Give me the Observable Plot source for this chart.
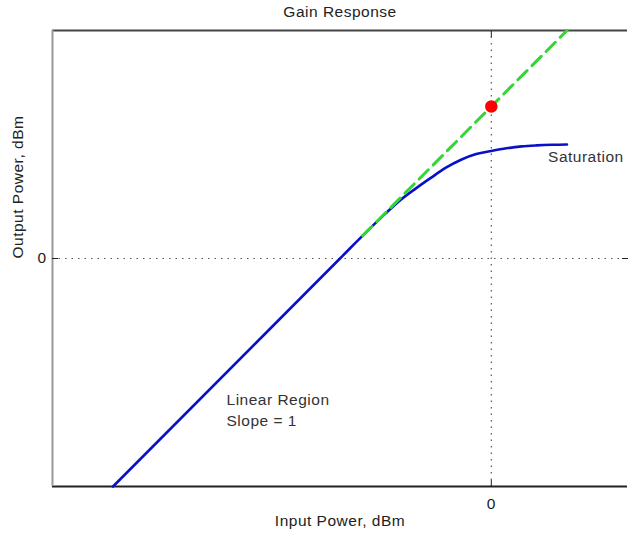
<!DOCTYPE html>
<html>
<head>
<meta charset="utf-8">
<script src="https://cdn.jsdelivr.net/npm/d3@7"></script>
<script src="https://cdn.jsdelivr.net/npm/@observablehq/plot@0.6"></script>
<style>
  html, body { margin: 0; padding: 0; background: #ffffff; overflow: hidden; }
  svg { display: block; }
</style>
</head>
<body>
<div id="chart"></div>
<script>
// ---- data ----
const inputDbm  = [-50, -30, -20, -16, -14, -12, -10, -8, -6, -4, -2, 0, 2, 4, 6, 8, 10];
const outputDbm = [-30, -10, 0, 4, 5.9, 7.7, 9.2, 10.6, 11.95, 13.0, 13.75, 14.15, 14.5, 14.75, 14.88, 14.96, 15.0];

const refInput  = [-17, 10];   // extrapolated linear (slope = 1) line
const refOutput = [3, 30];

const interceptInput  = [0];
const interceptOutput = [20];

const xTicks = [0];
const yTicks = [0];
const xDomain = [-58, 18];
const yDomain = [-30, 30];

const annText = ["Saturation", "Linear Region", "Slope = 1"];
const annX = [7.5, -35, -35];
const annY = [13.4, -18.6, -21.4];

// ---- build tables ----
const gain = inputDbm.map((x, i) => ({x, y: outputDbm[i]}));
const ref = refInput.map((x, i) => ({x, y: refOutput[i]}));
const dot = interceptInput.map((x, i) => ({x, y: interceptOutput[i]}));
const notes = annText.map((t, i) => ({t, x: annX[i], y: annY[i]}));

const font = "'Liberation Sans', Arial, Helvetica, sans-serif";

const chart = Plot.plot({
  width: 629,
  height: 539,
  marginLeft: 52,
  marginTop: 30,
  marginBottom: 53,
  marginRight: 2,
  style: {fontFamily: font, fontSize: "15px", background: "#ffffff", color: "#222"},
  x: {domain: xDomain},
  y: {domain: yDomain},
  marks: [
    // dotted grid lines at the ticks
    Plot.ruleX(xTicks, {stroke: "#555", strokeWidth: 1.2, strokeDasharray: "1.5,5"}),
    Plot.ruleY(yTicks, {stroke: "#555", strokeWidth: 1.2, strokeDasharray: "1.5,5"}),
    // box lines
    Plot.ruleY([yDomain[1]], {stroke: "#444", strokeWidth: 2}),
    Plot.ruleY([yDomain[0]], {stroke: "#222", strokeWidth: 2}),
    Plot.ruleX([xDomain[0]], {stroke: "#999", strokeWidth: 2}),
    // axes
    Plot.axisX({ticks: xTicks, tickSize: -6, tickPadding: 17, label: null, fontSize: 15.5, stroke: "#222"}),
    Plot.axisX({anchor: "top", ticks: xTicks, tickSize: -6, tickFormat: () => "", label: null, stroke: "#222"}),
    Plot.axisY({ticks: yTicks, tickSize: -6, tickPadding: 12, label: null, fontSize: 15.5, stroke: "#222"}),
    Plot.axisY({anchor: "right", ticks: yTicks, tickSize: -6, tickFormat: () => "", label: null, stroke: "#222"}),
    // gain curve
    Plot.line(gain, {x: "x", y: "y", stroke: "#0a10c8", strokeWidth: 2.6, curve: "monotone-x"}),
    // linear extrapolation
    Plot.line(ref, {x: "x", y: "y", stroke: "#33d633", strokeWidth: 3, strokeDasharray: "13,7"}),
    // intercept point
    Plot.dot(dot, {x: "x", y: "y", r: 5.5, fill: "#ff0000", stroke: "#ff0000"}),
    // annotations
    Plot.text(notes, {x: "x", y: "y", text: "t", textAnchor: "start", fontSize: 15.5, fill: "#333"}),
    // title and axis labels
    Plot.text(["Gain Response"], {frameAnchor: "top", dy: -25, fontSize: 15.5, fill: "#222"}),
    Plot.text(["Input Power, dBm"], {frameAnchor: "bottom", dy: 39, fontSize: 15.5, fill: "#222"}),
    Plot.text(["Output Power, dBm"], {frameAnchor: "left", dx: -34, rotate: -90, fontSize: 15.5, fill: "#222"})
  ]
});

chart.querySelectorAll("text").forEach(t => t.setAttribute("letter-spacing", "0.5"));
document.getElementById("chart").appendChild(chart);
</script>
</body>
</html>
